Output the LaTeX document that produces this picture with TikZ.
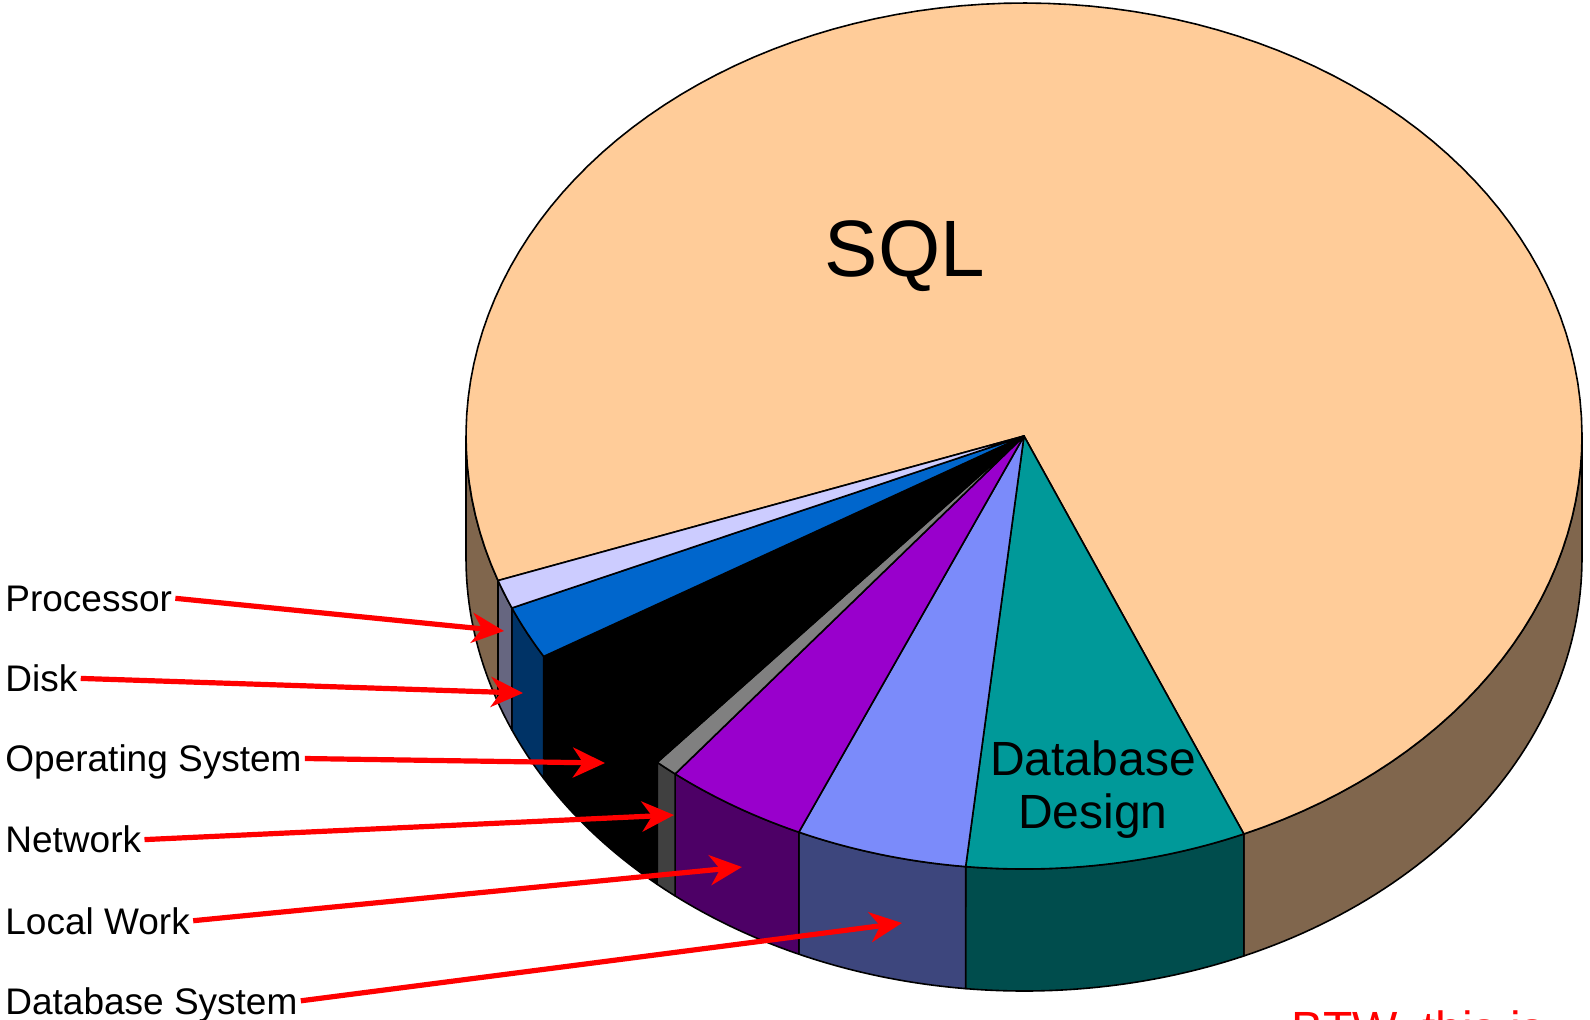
\documentclass[tikz,border=0pt]{standalone}
\usepackage{fontspec}
\setmainfont{Liberation Sans}
\usetikzlibrary{arrows.meta}
\definecolor{sqlT}{HTML}{FFCC99}\definecolor{sqlS}{HTML}{80664D}
\definecolor{procT}{HTML}{CCCCFF}\definecolor{procS}{HTML}{666680}
\definecolor{diskT}{HTML}{0066CC}\definecolor{diskS}{HTML}{003366}
\definecolor{osT}{HTML}{000000}\definecolor{osS}{HTML}{000000}
\definecolor{netT}{HTML}{808080}\definecolor{netS}{HTML}{404040}
\definecolor{locT}{HTML}{9900CC}\definecolor{locS}{HTML}{4D0066}
\definecolor{dbsT}{HTML}{7B8BFA}\definecolor{dbsS}{HTML}{3D467D}
\definecolor{dbdT}{HTML}{009999}\definecolor{dbdS}{HTML}{004D4D}
\newcommand{\pietop}[3]{\filldraw[rim,fill=#3] (1024,436) -- plot[domain=#1:#2,samples=120] ({1024+558*cos(\x)},{436+433*sin(\x)}) -- cycle;}
\newcommand{\pieside}[3]{\filldraw[rim,fill=#3] plot[domain=#1:#2,samples=60] ({1024+558*cos(\x)},{436+433*sin(\x)}) -- plot[domain=#2:#1,samples=60] ({1024+558*cos(\x)},{558+433*sin(\x)}) -- cycle;}
\begin{document}
\begin{tikzpicture}[x=0.5pt,y=-0.5pt,
  rim/.style={draw=black,line width=0.8pt,line join=round},
  lbl/.style={anchor=base west,inner xsep=1.5pt,inner ysep=0pt,text height=13.3pt,text depth=0pt,font=\fontsize{18.5}{22}\selectfont},
  redarrow/.style={draw=red,line width=2.6pt,-{Stealth[length=16pt,width=15pt,inset=5pt]}}]
\useasboundingbox (0,0) rectangle (1590,1019);
\fill[white] (0,0) rectangle (1590,1019);
\begin{scope}
\clip (0,0) rectangle (1590,1019);
% side faces
\pieside{0}{66.8}{sqlS}
\pieside{66.8}{96}{dbdS}
\pieside{96}{113.8}{dbsS}
\pieside{113.8}{128.7}{locS}
\pieside{128.7}{131.1}{netS}
\pieside{131.1}{149.4}{osS}
\pieside{149.4}{156.6}{diskS}
\pieside{156.6}{160.5}{procS}
\pieside{160.5}{180}{sqlS}
% top faces
\pietop{160.5}{426.8}{sqlT}
\pietop{66.8}{96}{dbdT}
\pietop{96}{113.8}{dbsT}
\pietop{113.8}{128.7}{locT}
\pietop{128.7}{131.1}{netT}
\pietop{131.1}{149.4}{osT}
\pietop{149.4}{156.6}{diskT}
\pietop{156.6}{160.5}{procT}
% slice texts
\node[anchor=base,inner sep=0pt,font=\fontsize{40}{44}\selectfont] (sql) at (905,276) {SQL};
\node[align=center,inner sep=0pt,font=\fontsize{24}{26.5}\selectfont] (dbd) at (1093,790) {Database\\Design};
% labels
\node[lbl] (proc) at (2,611.6) {Processor};
\node[lbl] (disk) at (2,691.7) {Disk};
\node[lbl] (os) at (2,771.8) {Operating System};
\node[lbl] (net) at (2,852.9) {Network};
\node[lbl] (loc) at (2,934) {Local Work};
\node[lbl] (dbs) at (2,1014.1) {Database System};
\coordinate (tproc) at (504,631);
\coordinate (tdisk) at (523,693);
\coordinate (tos) at (605,763);
\coordinate (tnet) at (674,815);
\coordinate (tloc) at (742,867);
\coordinate (tdbs) at (902,923);
\draw[redarrow] (proc.east) -- (tproc);
\draw[redarrow] (disk.east) -- (tdisk);
\draw[redarrow] (os.east) -- (tos);
\draw[redarrow] (net.east) -- (tnet);
\draw[redarrow] (loc.east) -- (tloc);
\draw[redarrow] (dbs.east) -- (tdbs);
\node[anchor=base west,inner sep=0pt,text=red,font=\fontsize{24}{26}\selectfont] (btw) at (1291,1045) {BTW, this is};
\end{scope}
\end{tikzpicture}
\end{document}
